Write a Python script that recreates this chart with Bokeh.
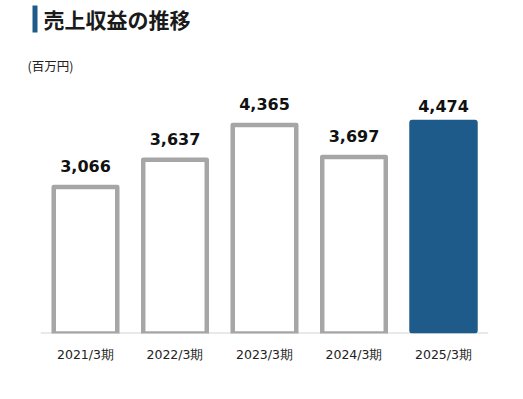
from bokeh.plotting import figure
from bokeh.models import Range1d, Label, ColumnDataSource, BoxAnnotation, FixedTicker
from bokeh.embed import file_html
from bokeh.resources import INLINE
from bokeh.core.properties import value

categories = ["2021/3期", "2022/3期", "2023/3期", "2024/3期", "2025/3期"]
revenue = [3066, 3637, 4365, 3697, 4474]
value_labels = ["3,066", "3,637", "4,365", "3,697", "4,474"]
title_text = "売上収益の推移"
unit_text = "(百万円)"

n = len(categories)
xs = list(range(n))

p = figure(width=515, height=391, x_range=Range1d(-0.9497, 4.8045),
           y_range=Range1d(0, 6971), output_backend="svg", toolbar_location=None,
           min_border_left=0, min_border_right=0, min_border_top=0, min_border_bottom=58)
p.outline_line_color = None
p.grid.visible = False
p.yaxis.visible = False
p.background_fill_color = "white"
p.border_fill_color = "white"

src_old = ColumnDataSource(dict(x=xs[:-1], top=revenue[:-1], lab=value_labels[:-1]))
src_new = ColumnDataSource(dict(x=xs[-1:], top=revenue[-1:], lab=value_labels[-1:]))

# baseline
p.segment(x0=[-0.5], x1=[n - 0.5], y0=[0], y1=[0], line_color="#d4d4d4", line_width=2)

p.vbar(x="x", top="top", width=0.71, bottom=0, source=src_old,
       fill_color="white", line_color="#a6a6a6", line_width=4.5, line_join="round")
p.vbar(x="x", top="top", width=0.765, bottom=0, source=src_new,
       fill_color="#1f5b8a", line_color=None, border_radius=3)

p.text(x="x", y="top", text="lab", source=src_old, text_align="center",
       text_baseline="alphabetic", y_offset=-21, text_font=value("DejaVu Sans"),
       text_font_style="bold", text_font_size="16px", text_color="#111111")
p.text(x="x", y="top", text="lab", source=src_new, text_align="center",
       text_baseline="alphabetic", y_offset=-14, text_font=value("DejaVu Sans"),
       text_font_style="bold", text_font_size="16px", text_color="#111111")

ax = p.xaxis[0]
ax.ticker = FixedTicker(ticks=xs)
ax.major_label_overrides = {i: c for i, c in zip(xs, categories)}
ax.axis_line_color = None
ax.major_tick_line_color = None
ax.minor_tick_line_color = None
ax.major_label_standoff = 7
ax.major_label_text_font = "DejaVu Sans"
ax.major_label_text_font_size = "12.5px"
ax.major_label_text_color = "#222222"

# title bar and texts (screen units, frame bottom-left origin)
p.add_layout(BoxAnnotation(left=32, right=37, top=328, bottom=301,
                           left_units="screen", right_units="screen",
                           top_units="screen", bottom_units="screen",
                           fill_color="#1f5b8a", fill_alpha=1, line_color=None))
p.add_layout(Label(x=43, y=315, x_units="screen", y_units="screen", text=title_text,
                   text_font="Noto Sans CJK JP", text_font_style="bold",
                   text_baseline="middle",
                   text_font_size="21px", text_color="#1a1a1a"))
p.add_layout(Label(x=27, y=268, x_units="screen", y_units="screen", text=unit_text,
                   text_font="Noto Sans CJK JP", text_baseline="middle",
                   text_font_size="12.5px", text_color="#222222"))

open("out.html", "w").write(file_html(p, INLINE))
